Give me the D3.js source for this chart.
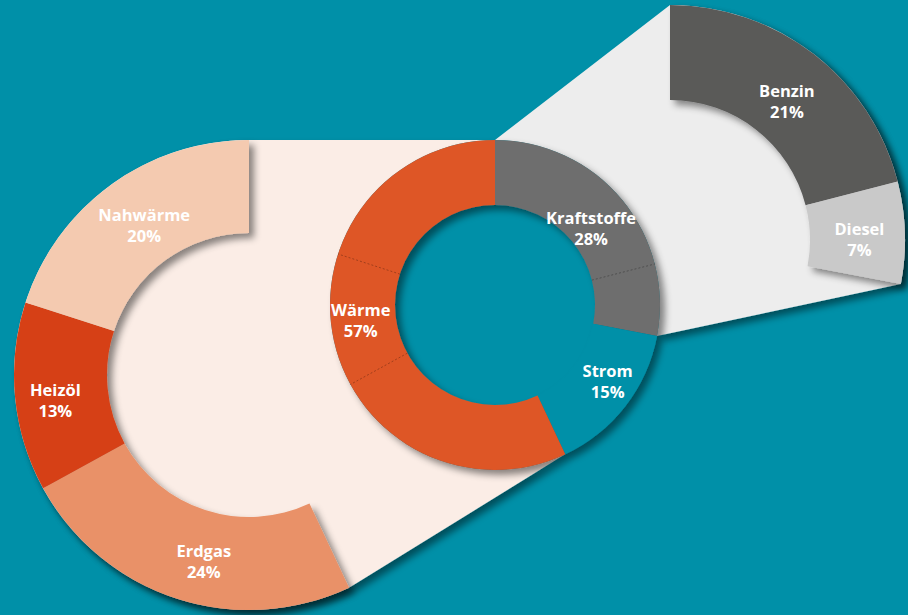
<!DOCTYPE html>
<html><head><meta charset="utf-8">
<script src="https://cdn.jsdelivr.net/npm/d3@7"></script>
<style>html,body{margin:0;padding:0;background:#0090a8;overflow:hidden} svg{display:block}</style>
</head><body><svg id="c" width="908" height="615"></svg>
<script>
// ---- data ----
const mainCats = ["Kraftstoffe", "Strom", "Wärme"];
const mainVals = [28, 15, 57];
const fuelCats = ["Benzin", "Diesel"];
const fuelVals = [21, 7];
const heatCats = ["Erdgas", "Heizöl", "Nahwärme"];
const heatVals = [24, 13, 20];

// ---- styles / layout ----
const colors = {
  "Kraftstoffe": "#6e6e6e", "Strom": "#0090a8", "Wärme": "#de5628",
  "Benzin": "#5a5a59", "Diesel": "#c9c9c9",
  "Erdgas": "#e99168", "Heizöl": "#d64016", "Nahwärme": "#f4cab0"
};
const bg = "#0090a8";
const main = {cx: 495, cy: 305, R: 165, r: 100};
const left = {cx: 249, cy: 375, R: 235, r: 142};
const right = {cx: 670, cy: 240, R: 235, r: 140};
const nudge = {
  "Kraftstoffe": [-6, 8], "Strom": [8, -5], "Wärme": [-5, -13],
  "Benzin": [2, 10], "Diesel": [2, 5],
  "Nahwärme": [6, 3], "Heizöl": [-6, 8], "Erdgas": [13, 7]
};

const svg = d3.select("#c");
svg.append("rect").attr("width", 908).attr("height", 615).attr("fill", bg);
const defs = svg.append("defs");
const f = defs.append("filter").attr("id", "sh").attr("x", "-20%").attr("y", "-20%").attr("width", "140%").attr("height", "140%");
f.append("feDropShadow").attr("dx", 5).attr("dy", 5).attr("stdDeviation", 3.5)
  .attr("flood-color", "#000").attr("flood-opacity", 0.45);

const mainPie = d3.pie().sort(null).value(d => d.v)(mainCats.map((c, i) => ({c, v: mainVals[i]})));
const kraft = mainPie[0], warme = mainPie[2];
const fuelPie = d3.pie().sort(null).value(d => d.v).startAngle(kraft.startAngle).endAngle(kraft.endAngle)
  (fuelCats.map((c, i) => ({c, v: fuelVals[i]})));
const heatPie = d3.pie().sort(null).value(d => d.v).startAngle(warme.startAngle).endAngle(warme.endAngle)
  (heatCats.map((c, i) => ({c, v: heatVals[i]})));

const pt = (g, r, a) => [g.cx + r * Math.sin(a), g.cy - r * Math.cos(a)];

// background connector shapes
{
  // peach (Wärme -> left ring)
  const a0 = warme.startAngle, a1 = warme.endAngle; // a1 = 2π (top)
  const p1 = pt(left, left.R, a1), p2 = pt(main, main.R, a1), p3 = pt(main, main.R, a0), p4 = pt(left, left.R, a0);
  const large = (a1 - a0) > Math.PI ? 1 : 0;
  const d = `M${p1}L${p2}A${main.R},${main.R} 0 ${large} 0 ${p3}L${p4}A${left.R},${left.R} 0 ${large} 1 ${p1}Z`;
  svg.append("path").attr("d", d).attr("fill", "#fbede6").attr("filter", "url(#sh)");
}
{
  const a0 = kraft.startAngle, a1 = kraft.endAngle;
  const p1 = pt(main, main.R, a0), p2 = pt(right, right.R, a0), p3 = pt(right, right.R, a1), p4 = pt(main, main.R, a1);
  const large = (a1 - a0) > Math.PI ? 1 : 0;
  const d = `M${p1}L${p2}A${right.R},${right.R} 0 ${large} 1 ${p3}L${p4}A${main.R},${main.R} 0 ${large} 0 ${p1}Z`;
  svg.append("path").attr("d", d).attr("fill", "#ededed").attr("filter", "url(#sh)");
}

function ring(g, pie, cls) {
  const arc = d3.arc().innerRadius(g.r).outerRadius(g.R);
  const grp = svg.append("g").attr("transform", `translate(${g.cx},${g.cy})`);
  grp.append("g").attr("filter", "url(#sh)").selectAll("path").data(pie).join("path")
    .attr("d", arc).attr("fill", d => colors[d.data.c]);
  return {grp, arc};
}

const L = ring(left, heatPie);
const Rr = ring(right, fuelPie);
const M = ring(main, mainPie);

// seams in the central donut
const seams = [];
fuelPie.slice(1).forEach(d => seams.push(d.startAngle));
heatPie.slice(1).forEach(d => seams.push(d.startAngle));
M.grp.selectAll("line.seam").data(seams).join("line")
  .attr("x1", a => main.r * Math.sin(a)).attr("y1", a => -main.r * Math.cos(a))
  .attr("x2", a => main.R * Math.sin(a)).attr("y2", a => -main.R * Math.cos(a))
  .attr("stroke", "rgba(0,0,0,0.35)").attr("stroke-width", 0.8).attr("stroke-dasharray", "2,2");

function labels(g, res, pie, vals) {
  pie.forEach(d => {
    const c = res.arc.centroid(d);
    const n = nudge[d.data.c] || [0, 0];
    const t = res.grp.append("text").attr("text-anchor", "middle")
      .attr("font-family", "'Open Sans', sans-serif").attr("font-weight", 700)
      .attr("font-size", 16.5).attr("fill", "#fff");
    t.append("tspan").attr("x", c[0] + n[0]).attr("y", c[1] + n[1] - 4.5).text(d.data.c);
    t.append("tspan").attr("x", c[0] + n[0]).attr("y", c[1] + n[1] + 16.5).text(d.data.v + "%");
  });
}
labels(left, L, heatPie);
labels(right, Rr, fuelPie);
labels(main, M, mainPie);
</script></body></html>
